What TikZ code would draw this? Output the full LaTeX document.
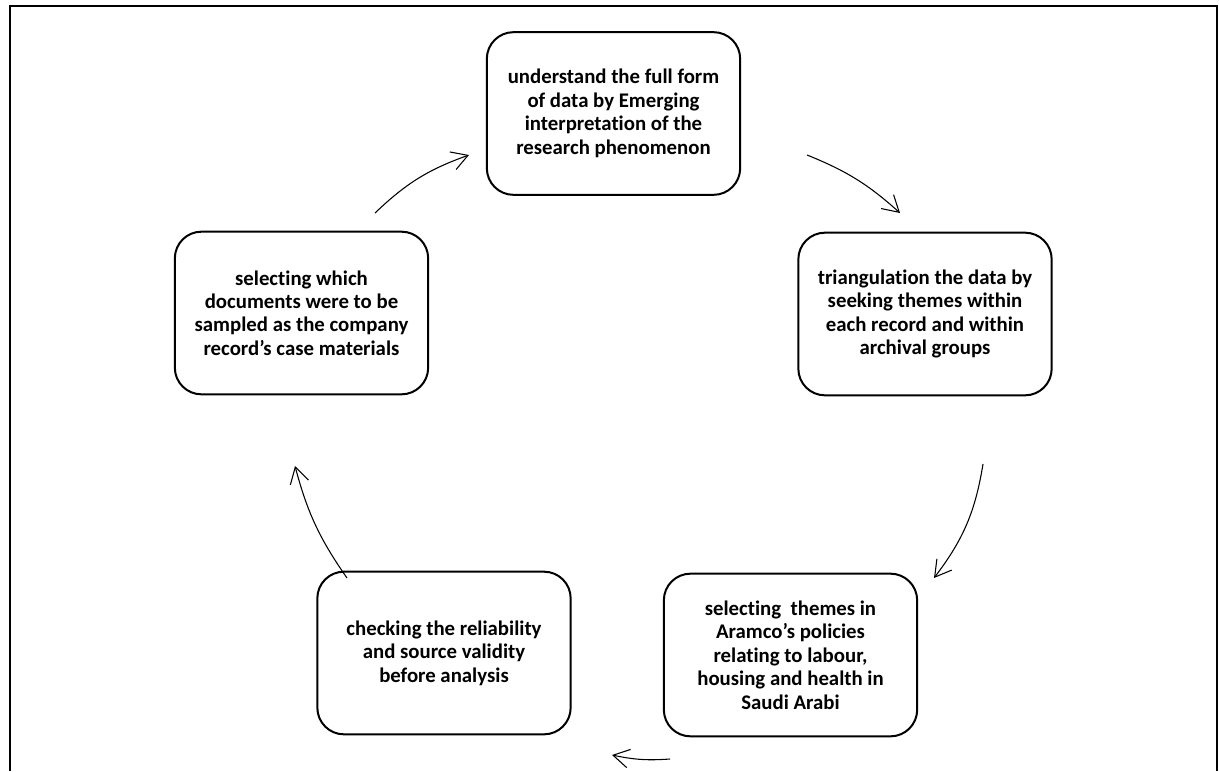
\documentclass[tikz,border=0pt]{standalone}
\usepackage{fontspec}
\setmainfont{Carlito}[Ligatures=NoCommon]
\usepackage{tikz}
\usetikzlibrary{arrows.meta}

\tikzset{
  stagebox/.style={draw, line width=1.5pt, rounded corners=20pt, minimum width=190pt,
    minimum height=122pt, inner sep=0pt, align=center,
    font=\bfseries\fontsize{15.6}{17.6}\selectfont},
  flow/.style={-{Straight Barb[length=12pt,width=14pt]}, line width=0.8pt}
}

\begin{document}
\begin{tikzpicture}[x=0.75pt,y=-0.75pt]
  \useasboundingbox (0,0) rectangle (1219,771);
  \draw[line width=1.5pt] (9.5,771) -- (9.5,6) -- (1216.5,6) -- (1216.5,771);

  \node[stagebox] (understand) at (613.5,113.5) {understand the full form\\of data by Emerging\\interpretation of the\\research phenomenon};
  \node[stagebox] (triangulate) at (925,314) {triangulation the data by\\seeking themes within\\each record and within\\archival groups};
  \node[stagebox] (themes) at (790.5,655) {selecting~ themes in\\Aramco’s policies\\relating to labour,\\housing and health in\\Saudi Arabi};
  \node[stagebox] (checking) at (444,653) {checking the reliability\\and source validity\\before analysis};
  \node[stagebox] (sampling) at (301.5,313) {selecting which\\documents were to be\\sampled as the company\\record’s case materials};

  % free arrows between the stages
  \coordinate (a1s) at (375,213);  \coordinate (a1e) at (469,155);
  \coordinate (a2s) at (807,155);  \coordinate (a2e) at (900,213);
  \coordinate (a3s) at (983,464);  \coordinate (a3e) at (934,578);
  \coordinate (a4s) at (670,759);  \coordinate (a4e) at (612,755);
  \coordinate (a5s) at (347,578);  \coordinate (a5e) at (295,466);
  \draw[flow] (a1s) to[bend left=12] (a1e);
  \draw[flow] (a2s) to[bend left=10] (a2e);
  \draw[flow] (a3s) to[bend left=14] (a3e);
  \draw[flow] (a4s) to[bend left=8] (a4e);
  \draw[flow] (a5s) to[bend left=10] (a5e);
\end{tikzpicture}
\end{document}
